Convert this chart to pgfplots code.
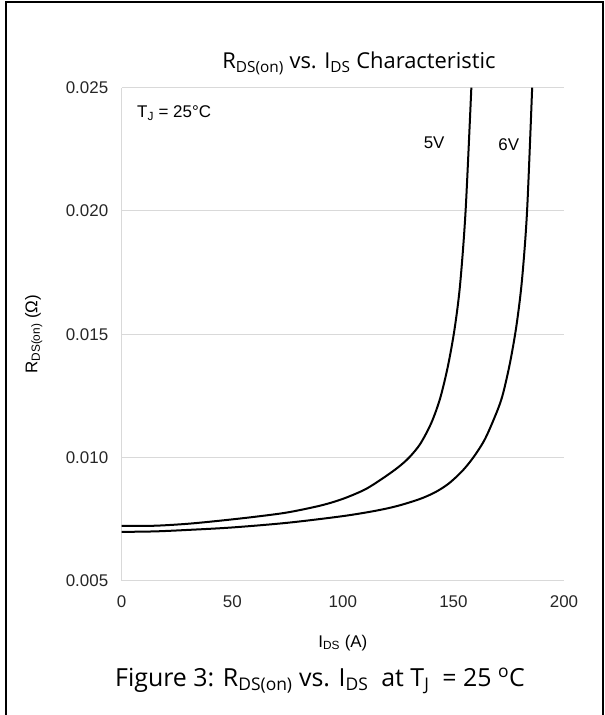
\documentclass[border=0pt]{standalone}
\usepackage{fontspec}
\setmainfont{Liberation Sans}
\newfontfamily\segoe{Open Sans}
\usepackage{pgfplots}
\pgfplotsset{compat=1.18}
\definecolor{gridgray}{HTML}{D9D9D9}

\begin{document}
\begin{tikzpicture}
\useasboundingbox (0bp,0bp) rectangle (605bp,715bp);
\draw[line width=2bp] (6bp,0bp) -- (6bp,713bp) -- (603bp,713bp) -- (603bp,0bp);
\node[font=\segoe\fontsize{22}{26}\selectfont] at (359bp,652bp)
  {R\textsubscript{DS(on)} vs. I\textsubscript{DS} Characteristic};
\node[font=\segoe\fontsize{25}{29}\selectfont] at (320bp,34bp)
  {Figure 3: R\textsubscript{DS(on)} vs. I\textsubscript{DS}\ \ at T\textsubscript{J}\ \ = 25 \textsuperscript{o}C};
\begin{axis}[
    at={(121.7bp,134.3bp)}, anchor=south west,
    scale only axis, width=442.3bp, height=493bp,
    xmin=0, xmax=200, ymin=0.005, ymax=0.025,
    scaled y ticks=false,
    axis lines*=left,
    axis line style={gridgray, line width=1.2bp},
    ymajorgrids,
    grid style={gridgray, line width=1bp},
    major tick length=0pt,
    xtick={0,50,100,150,200},
    xticklabels={0,50,100,150,200},
    ytick={0.005,0.010,0.015,0.020,0.025},
    yticklabels={0.005,0.010,0.015,0.020,0.025},
    tick label style={font=\fontsize{17}{20}\selectfont, text=black!85},
    xticklabel style={yshift=-11bp},
    yticklabel style={xshift=-10bp},
    xlabel={I\textsubscript{DS} (A)},
    ylabel={R\textsubscript{DS(on)} (Ω)},
    every axis x label/.style={at={(axis description cs:0.5,0)}, yshift=-62bp, anchor=center, font=\fontsize{17}{20}\selectfont},
    every axis y label/.style={at={(axis description cs:0,0.5)}, xshift=-88bp, rotate=90, anchor=center, font=\fontsize{17}{20}\selectfont},
]
% 5V gate drive
\addplot[black, line width=2bp, smooth, tension=0.5] coordinates {
    (0,0.00722) (15,0.00723) (30,0.00731) (45,0.00744) (60,0.00759)
    (75,0.00777) (90,0.00805) (100,0.00832) (110,0.00870) (118,0.00915)
    (125,0.00960) (130,0.01000) (135,0.01055) (140,0.01140) (144,0.01240)
    (147.5,0.01370) (150.5,0.01520) (153,0.01700) (155.5,0.02000) (158.1,0.02500)
};
% 6V gate drive
\addplot[black, line width=2bp, smooth, tension=0.5] coordinates {
    (0,0.00698) (15,0.00700) (30,0.00706) (50,0.00716) (75,0.00735)
    (100,0.00762) (115,0.00784) (125,0.00804) (135,0.00832) (142,0.00860)
    (148,0.00895) (154,0.00945) (159,0.01000) (164,0.01070) (168.5,0.01160)
    (172,0.01245) (175.5,0.01380) (178.5,0.01535) (181,0.01720) (183.3,0.02000)
    (185.6,0.02500)
};
\node[font=\fontsize{17}{20}\selectfont] at (axis cs:141.3,0.02276) {5V};
\node[font=\fontsize{17}{20}\selectfont] at (axis cs:175.0,0.02268) {6V};
\node[font=\fontsize{17}{20}\selectfont, anchor=west, inner sep=0pt] at (axis cs:6.9,0.02397) {T\textsubscript{J} = 25°C};
\end{axis}
\end{tikzpicture}
\end{document}
